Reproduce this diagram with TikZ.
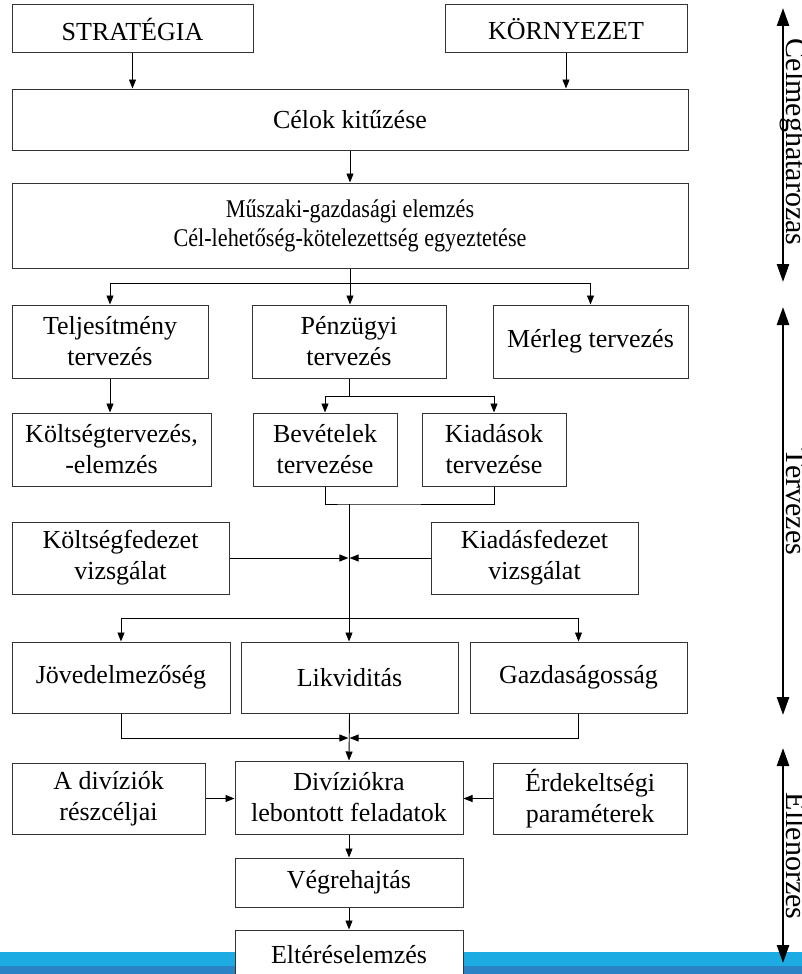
\documentclass[tikz,border=0pt]{standalone}
\usepackage{fontspec}
\setmainfont{Liberation Serif}
\newfontfamily\narrowserif[FakeStretch=0.87]{Liberation Serif}
\usetikzlibrary{arrows.meta}
\definecolor{barlight}{HTML}{1DABE3}
\definecolor{bardark}{HTML}{2A83C4}
\definecolor{boxline}{HTML}{333333}
\begin{document}
\begin{tikzpicture}[x=1pt,y=-1pt,
  box/.style={draw=boxline, line width=1pt, fill=white, inner sep=0pt, align=center,
    font=\fontsize{26}{31}\selectfont},
  conn/.style={line width=0.9pt, -{Triangle[length=9pt,width=7pt]}},
  plain/.style={line width=0.9pt},
  phase/.style={line width=2.6pt, {Triangle[length=18pt,width=12pt]}-{Triangle[length=18pt,width=12pt]}},
  phaselabel/.style={rotate=-90, anchor=base, inner sep=0pt, font=\fontsize{30}{34}\selectfont}]
\useasboundingbox (0,0) rectangle (802,974);
% bottom bar
\fill[barlight] (0,952) rectangle (802,966);
\fill[bardark] (0,966) rectangle (802,974);
% boxes
\node[box, minimum width=241pt, minimum height=48pt] (strat) at (132.5,29) {STRATÉGIA};
\node[box, minimum width=242pt, minimum height=48pt] (korny) at (566,29) {KÖRNYEZET};
\node[box, minimum width=676pt, minimum height=61pt] (celok) at (350,119.5) {Célok kitűzése};
\node[box, minimum width=676pt, minimum height=85pt, font=\narrowserif\fontsize{25.5}{29}\selectfont] (musz) at (350,225.5) {Műszaki-gazdasági elemzés\\Cél-lehetőség-kötelezettség egyeztetése};
\node[box, minimum width=196pt, minimum height=73pt] (telj) at (110,341.5) {Teljesítmény\\tervezés};
\node[box, minimum width=194pt, minimum height=73pt] (penz) at (349,341.5) {Pénzügyi\\tervezés};
\node[box, minimum width=195pt, minimum height=73pt] (merleg) at (590.5,341.5) {Mérleg tervezés};
\node[box, minimum width=199pt, minimum height=73pt] (kolts) at (111.5,449.5) {Költségtervezés,\\-elemzés};
\node[box, minimum width=144pt, minimum height=73pt] (bev) at (325,449.5) {Bevételek\\tervezése};
\node[box, minimum width=144pt, minimum height=73pt] (kiad) at (494,449.5) {Kiadások\\tervezése};
\node[box, minimum width=217pt, minimum height=72pt] (koltsfed) at (120.5,558) {Költségfedezet\\vizsgálat};
\node[box, minimum width=207pt, minimum height=72pt] (kiadfed) at (534.5,558) {Kiadásfedezet\\vizsgálat};
\node[box, minimum width=218pt, minimum height=71pt] (jov) at (121,677.5) {Jövedelmezőség};
\node[box, minimum width=217pt, minimum height=71pt] (likv) at (349.5,677.5) {Likviditás};
\node[box, minimum width=217pt, minimum height=71pt] (gazd) at (578.5,677.5) {Gazdaságosság};
\node[box, minimum width=193pt, minimum height=71pt] (adiv) at (108.5,798.5) {A divíziók\\részcéljai};
\node[box, minimum width=228pt, minimum height=73pt] (divk) at (349,797.5) {Divíziókra\\lebontott feladatok};
\node[box, minimum width=194pt, minimum height=71pt] (erdek) at (590,798.5) {Érdekeltségi\\paraméterek};
\node[box, minimum width=228pt, minimum height=49pt] (vegr) at (349,882.5) {Végrehajtás};
\node[box, minimum width=228pt, minimum height=50pt] (elter) at (349,955) {Eltéréselemzés};
% junction coordinates
\coordinate (b1) at (350,283);
\coordinate (b2) at (349,396);
\coordinate (m) at (349,504);
\coordinate (j) at (349,558);
\coordinate (b3) at (349,618);
\coordinate (b4) at (349,738);
% connectors
\draw[conn] (strat.south) -- (strat.south |- celok.north);
\draw[conn] (korny.south) -- (korny.south |- celok.north);
\draw[conn] (celok.south) -- (musz.north);
\draw[plain] (musz.south) -- (b1);
\draw[conn] (b1) -| (telj.north);
\draw[conn] (b1) -- (b1 |- penz.north);
\draw[conn] (b1) -| (merleg.north);
\draw[conn] (telj.south) -- (telj.south |- kolts.north);
\draw[plain] (penz.south) -- (b2);
\draw[conn] (b2) -| (bev.north);
\draw[conn] (b2) -| (kiad.north);
\draw[plain] (bev.south) |- (m) -| (kiad.south);
\draw[conn] (m) -- (m |- likv.north);
\draw[conn] (koltsfed.east) -- ([xshift=-0.6pt]j);
\draw[conn] (kiadfed.west) -- ([xshift=0.6pt]j);
\draw[conn] (b3) -| (jov.north);
\draw[conn] (b3) -| (gazd.north);
\draw[conn] (jov.south) |- ([xshift=-0.6pt]b4);
\draw[conn] (gazd.south) |- ([xshift=0.6pt]b4);
\draw[conn] (likv.south) -- (divk.north);
\draw[conn] (adiv.east) -- (adiv.east -| divk.west);
\draw[conn] (erdek.west) -- (erdek.west -| divk.east);
\draw[conn] (divk.south) -- (vegr.north);
\draw[conn] (vegr.south) -- (elter.north);
% phase arrows
\coordinate (p1a) at (783,8);
\coordinate (p1b) at (783,282);
\coordinate (p2a) at (783,307);
\coordinate (p2b) at (783,715);
\coordinate (p3a) at (783,748);
\coordinate (p3b) at (783,963);
\draw[phase] (p1a) -- (p1b);
\draw[phase] (p2a) -- (p2b);
\draw[phase] (p3a) -- (p3b);
\node[phaselabel] (l1) at (786,142) {Célmeghatározás};
\node[phaselabel] (l2) at (786,502) {Tervezés};
\node[phaselabel] (l3) at (786,856) {Ellenőrzés};
\end{tikzpicture}
\end{document}
